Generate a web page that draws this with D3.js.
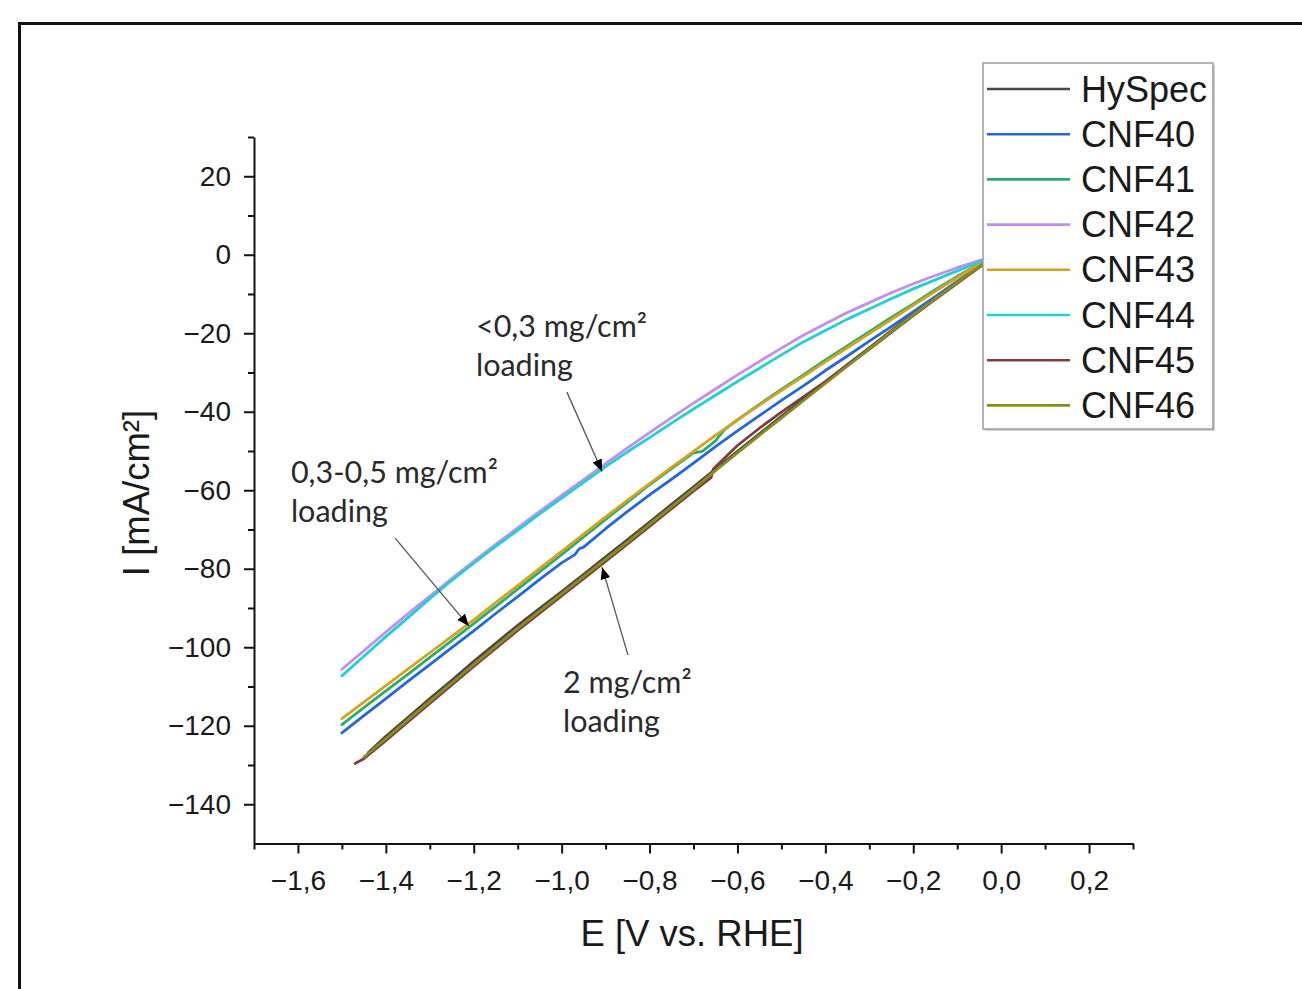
<!DOCTYPE html>
<html><head><meta charset="utf-8">
<script src="https://cdn.jsdelivr.net/npm/d3@7"></script>
<style>body{margin:0;background:#fff;} svg{display:block;}</style>
</head><body>
<svg id="chart" width="1302" height="989"></svg>
<script>
// ---- data ----
const seriesNames = ["HySpec","CNF40","CNF41","CNF42","CNF43","CNF44","CNF45","CNF46"];
const seriesColors = ["#4a4a4a","#2466e0","#2aae66","#c38cf0","#d6a21e","#1ed0d8","#7c3e3e","#8c8c18"];

const hyspec = [[-1.44,-126.8],[-1.40,-122.7],[-1.35,-117.9],[-1.30,-113.1],[-1.25,-108.4],[-1.20,-103.6],[-1.15,-99.0],[-1.10,-94.4],[-1.05,-90.1],[-1.00,-85.8],[-0.95,-81.4],[-0.90,-77.0],[-0.85,-72.6],[-0.80,-68.1],[-0.75,-63.6],[-0.70,-59.1],[-0.65,-54.6],[-0.60,-50.1],[-0.55,-45.6],[-0.50,-41.2],[-0.45,-36.8],[-0.40,-32.4],[-0.35,-28.0],[-0.30,-23.7],[-0.25,-19.3],[-0.20,-15.0],[-0.15,-10.9],[-0.10,-6.9],[-0.05,-2.8],[-0.03,-1.2]];
const cnf40 = [[-1.50,-121.8],[-1.45,-117.4],[-1.40,-113.1],[-1.35,-108.7],[-1.30,-104.4],[-1.25,-100.1],[-1.20,-95.8],[-1.15,-91.4],[-1.10,-87.1],[-1.05,-82.7],[-1.00,-78.5],[-0.97,-76.4],[-0.96,-74.9],[-0.95,-74.5],[-0.90,-69.8],[-0.85,-65.4],[-0.80,-61.2],[-0.75,-57.2],[-0.70,-53.1],[-0.65,-48.9],[-0.60,-44.9],[-0.55,-41.0],[-0.50,-37.1],[-0.45,-33.4],[-0.40,-29.5],[-0.35,-25.8],[-0.30,-22.0],[-0.25,-18.3],[-0.20,-14.5],[-0.15,-10.7],[-0.10,-6.8],[-0.05,-3.1],[-0.03,-2.0]];
const cnf41 = [[-1.50,-119.7],[-1.45,-115.4],[-1.40,-111.1],[-1.35,-106.9],[-1.30,-102.6],[-1.25,-98.3],[-1.20,-94.0],[-1.15,-89.6],[-1.10,-85.2],[-1.05,-80.8],[-1.00,-76.4],[-0.95,-71.9],[-0.90,-67.4],[-0.85,-63.0],[-0.80,-58.6],[-0.75,-54.5],[-0.70,-50.5],[-0.68,-50.1],[-0.65,-47.4],[-0.63,-44.6],[-0.60,-42.1],[-0.55,-38.1],[-0.50,-34.3],[-0.45,-30.6],[-0.40,-26.8],[-0.35,-23.2],[-0.30,-19.6],[-0.25,-16.0],[-0.20,-12.5],[-0.15,-8.9],[-0.10,-5.5],[-0.05,-2.4],[-0.03,-1.6]];
const cnf42 = [[-1.50,-105.6],[-1.45,-100.9],[-1.40,-96.1],[-1.35,-91.5],[-1.30,-87.0],[-1.25,-82.5],[-1.20,-78.1],[-1.15,-73.8],[-1.10,-69.6],[-1.05,-65.4],[-1.00,-61.3],[-0.95,-57.3],[-0.90,-53.2],[-0.85,-49.2],[-0.80,-45.3],[-0.75,-41.5],[-0.70,-37.8],[-0.65,-34.2],[-0.60,-30.6],[-0.55,-27.2],[-0.50,-23.8],[-0.45,-20.5],[-0.40,-17.6],[-0.35,-14.7],[-0.30,-12.2],[-0.25,-9.7],[-0.20,-7.4],[-0.15,-5.3],[-0.10,-3.3],[-0.05,-1.5],[-0.03,-0.8]];
const cnf43 = [[-1.50,-118.2],[-1.45,-114.0],[-1.40,-109.8],[-1.35,-105.6],[-1.30,-101.4],[-1.25,-97.2],[-1.20,-93.0],[-1.15,-88.6],[-1.10,-84.3],[-1.05,-79.9],[-1.00,-75.6],[-0.95,-71.2],[-0.90,-66.8],[-0.85,-62.5],[-0.80,-58.3],[-0.75,-54.2],[-0.70,-50.1],[-0.65,-46.0],[-0.60,-42.1],[-0.55,-38.3],[-0.50,-34.6],[-0.45,-31.0],[-0.40,-27.3],[-0.35,-23.7],[-0.30,-20.1],[-0.25,-16.5],[-0.20,-12.9],[-0.15,-9.3],[-0.10,-5.8],[-0.05,-2.5],[-0.03,-1.6]];
const cnf44 = [[-1.50,-107.3],[-1.45,-102.3],[-1.40,-97.3],[-1.35,-92.5],[-1.30,-87.6],[-1.25,-83.0],[-1.20,-78.6],[-1.15,-74.3],[-1.10,-70.2],[-1.05,-66.0],[-1.00,-62.0],[-0.95,-58.0],[-0.90,-54.0],[-0.85,-50.2],[-0.80,-46.6],[-0.75,-42.9],[-0.70,-39.3],[-0.65,-35.8],[-0.60,-32.3],[-0.55,-28.9],[-0.50,-25.5],[-0.45,-22.2],[-0.40,-19.3],[-0.35,-16.4],[-0.30,-13.8],[-0.25,-11.2],[-0.20,-8.7],[-0.15,-6.4],[-0.10,-4.1],[-0.05,-1.9],[-0.03,-1.0]];
const cnf45 = [[-1.47,-129.6],[-1.45,-128.4],[-1.40,-123.8],[-1.35,-119.0],[-1.30,-114.3],[-1.25,-109.6],[-1.20,-104.9],[-1.15,-100.3],[-1.10,-95.7],[-1.05,-91.3],[-1.00,-86.9],[-0.95,-82.5],[-0.90,-78.1],[-0.85,-73.7],[-0.80,-69.2],[-0.75,-64.7],[-0.70,-60.2],[-0.66,-56.8],[-0.655,-54.6],[-0.60,-48.6],[-0.55,-44.2],[-0.50,-40.1],[-0.45,-36.2],[-0.40,-32.3],[-0.35,-28.2],[-0.30,-24.1],[-0.25,-19.8],[-0.20,-15.5],[-0.15,-11.4],[-0.10,-7.3],[-0.05,-3.2],[-0.03,-1.5]];
const cnf46 = [[-1.45,-128.0],[-1.40,-123.3],[-1.35,-118.5],[-1.30,-113.8],[-1.25,-109.1],[-1.20,-104.4],[-1.15,-99.8],[-1.10,-95.2],[-1.05,-90.8],[-1.00,-86.4],[-0.95,-82.0],[-0.90,-77.6],[-0.85,-73.2],[-0.80,-68.7],[-0.75,-64.2],[-0.70,-59.7],[-0.65,-55.0],[-0.60,-50.5],[-0.55,-46.0],[-0.50,-41.6],[-0.45,-37.2],[-0.40,-32.8],[-0.35,-28.4],[-0.30,-24.0],[-0.25,-19.6],[-0.20,-15.3],[-0.15,-11.2],[-0.10,-7.1],[-0.05,-3.0],[-0.03,-1.3]];
const seriesData = [hyspec, cnf40, cnf41, cnf42, cnf43, cnf44, cnf45, cnf46];

const xMajorTicks = [-1.6,-1.4,-1.2,-1.0,-0.8,-0.6,-0.4,-0.2,0.0,0.2];
const xMinorTicks = [-1.7,-1.5,-1.3,-1.1,-0.9,-0.7,-0.5,-0.3,-0.1,0.1,0.3];
const yMajorTicks = [20,0,-20,-40,-60,-80,-100,-120,-140];
const yMinorTicks = [30,10,-10,-30,-50,-70,-90,-110,-130];

// annotations: [text lines], text anchor point (E,I), arrow tail (E,I), arrow tip (E,I)
const annotLines = [["<0,3 mg/cm²","loading"],["0,3-0,5 mg/cm²","loading"],["2 mg/cm²","loading"]];
const annotTextPos = [[-1.195,-21.0],[-1.616,-58.2],[-0.997,-111.7]];
const annotTail = [[-0.988,-35.0],[-1.379,-72.2],[-0.849,-102.0]];
const annotTip = [[-0.908,-55.2],[-1.211,-94.6],[-0.908,-79.6]];

// ---- drawing ----
const svg = d3.select("#chart");
const x = d3.scaleLinear().domain([-1.7, 0.3]).range([254, 1133]);
const y = d3.scaleLinear().domain([-150, 30]).range([843.5, 137]);
const fmt = v => d3.format(".1f")(v).replace(".", ",");

// outer frame
svg.append("path").attr("d","M19.5,989 V23.5 H1302").attr("fill","none").attr("stroke","#111").attr("stroke-width",3);

const tickFont = "'Liberation Sans', Arial, sans-serif";

// x axis
const gx = svg.append("g").attr("transform",`translate(0,${y(-150)})`);
gx.call(d3.axisBottom(x).tickValues(xMajorTicks).tickSize(10).tickSizeOuter(0).tickPadding(17).tickFormat(fmt));
const gxm = svg.append("g").attr("transform",`translate(0,${y(-150)})`);
gxm.call(d3.axisBottom(x).tickValues(xMinorTicks).tickSize(6).tickSizeOuter(0).tickFormat(""));
gxm.select(".domain").remove();

// y axis
const gy = svg.append("g").attr("transform",`translate(${x(-1.7)},0)`);
gy.call(d3.axisLeft(y).tickValues(yMajorTicks).tickSize(10).tickSizeOuter(0).tickPadding(13).tickFormat(d3.format("d")));
const gym = svg.append("g").attr("transform",`translate(${x(-1.7)},0)`);
gym.call(d3.axisLeft(y).tickValues(yMinorTicks).tickSize(6).tickSizeOuter(0).tickFormat(""));
gym.select(".domain").remove();

svg.selectAll(".domain").attr("stroke","#111").attr("stroke-width",2);
svg.selectAll(".tick line").attr("stroke","#111").attr("stroke-width",2);
svg.selectAll(".tick text").attr("font-family",tickFont).attr("font-size",28).attr("fill","#1a1a1a");

// axis titles
svg.append("text").attr("x",692).attr("y",946).attr("text-anchor","middle")
  .attr("font-family",tickFont).attr("font-size",36.5).attr("fill","#1a1a1a").text("E [V vs. RHE]");
svg.append("text").attr("transform","translate(149,493) rotate(-90)").attr("text-anchor","middle")
  .attr("font-family",tickFont).attr("font-size",36.5).attr("fill","#1a1a1a").text("I [mA/cm²]");

// lines
const line = d3.line().x(d => x(d[0])).y(d => y(d[1]));
svg.append("g").selectAll("path").data(seriesData).join("path")
  .attr("d", line).attr("fill","none")
  .attr("stroke",(d,i)=>seriesColors[i]).attr("stroke-width",2.8)
  .attr("stroke-linejoin","round").attr("stroke-linecap","round");

// annotations
const defs = svg.append("defs");
defs.append("marker").attr("id","ah").attr("markerUnits","userSpaceOnUse")
  .attr("markerWidth",14).attr("markerHeight",12).attr("refX",12).attr("refY",5)
  .attr("orient","auto").append("path").attr("d","M0,0 L12,5 L0,10 Z").attr("fill","#000");
const annFont = "Lato, 'Open Sans', sans-serif";
annotLines.forEach((lines,i)=>{
  svg.append("line")
    .attr("x1",x(annotTail[i][0])).attr("y1",y(annotTail[i][1]))
    .attr("x2",x(annotTip[i][0])).attr("y2",y(annotTip[i][1]))
    .attr("stroke","#555").attr("stroke-width",1.3).attr("marker-end","url(#ah)");
  lines.forEach((t,j)=>{
    svg.append("text").attr("x",x(annotTextPos[i][0])).attr("y",y(annotTextPos[i][1])+j*39)
      .attr("font-family",annFont).attr("font-size",30.5).attr("fill","#2a2a2a").text(t);
  });
});

// legend
const lg = svg.append("g");
lg.append("rect").attr("x",985).attr("y",65).attr("width",230).attr("height",366).attr("fill","#d0d0d0");
lg.append("rect").attr("x",983).attr("y",63).attr("width",230).attr("height",366)
  .attr("fill","#fff").attr("stroke","#9a9a9a").attr("stroke-width",1.5);
seriesNames.forEach((n,i)=>{
  const cy = 89 + i*45.2;
  lg.append("line").attr("x1",987).attr("x2",1070).attr("y1",cy).attr("y2",cy)
    .attr("stroke",seriesColors[i]).attr("stroke-width",2.6);
  lg.append("text").attr("x",1081).attr("y",cy+12.5).attr("font-family",tickFont)
    .attr("font-size",36).attr("fill","#1a1a1a").text(n);
});
</script>
</body></html>
